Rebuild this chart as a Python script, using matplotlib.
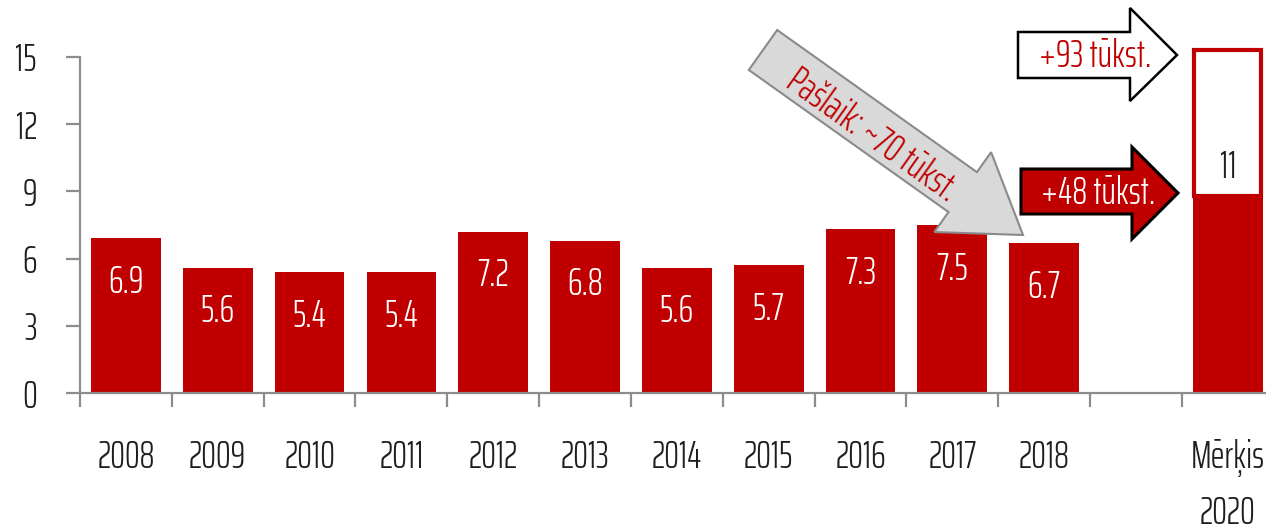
import matplotlib
matplotlib.use('Agg')
import matplotlib.pyplot as plt
from matplotlib import font_manager
from matplotlib.patches import Polygon
import numpy as np

# ---------------- data ----------------
categories = ['2008', '2009', '2010', '2011', '2012', '2013', '2014', '2015',
              '2016', '2017', '2018', '', 'Mērķis\n2020']
values = [6.9, 5.6, 5.4, 5.4, 7.2, 6.8, 5.6, 5.7, 7.3, 7.5, 6.7]
value_labels = ['6.9', '5.6', '5.4', '5.4', '7.2', '6.8', '5.6', '5.7', '7.3', '7.5', '6.7']
target_base = 8.8
target_extra = 6.5
target_label = '11'
yticks = [0, 3, 6, 9, 12, 15]
arrow_now = 'Pašlaik: ~70 tūkst.'
arrow_top = '+93 tūkst.'
arrow_mid = '+48 tūkst.'

# ---------------- fonts ----------------
names = {f.name for f in font_manager.fontManager.ttflist}
font = 'DejaVu Sans'
for cand in ['Saira ExtraCondensed', 'Barlow Condensed', 'Roboto Condensed']:
    if cand in names:
        font = cand
        break
plt.rcParams['font.family'] = [font, 'DejaVu Sans']
plt.rcParams['font.weight'] = 300

RED = '#C00000'
GRAY = '#8C8C8C'
TXT = '#1E1E1E'
FS = 27

W, H = 1266, 529
fig = plt.figure(figsize=(W / 100, H / 100), dpi=100)

x0, y0 = 80, 393
ppu = (393 - 57) / 15.0
cat_w = 91.83
ymax = 16.5
ax = fig.add_axes([x0 / W, (H - y0) / H, 13 * cat_w / W, ymax * ppu / H])
ax.set_xlim(-0.5, 12.5)
ax.set_ylim(0, ymax)

xs = np.arange(len(values))
bw = 0.76
ax.bar(xs, values, width=bw, color=RED, zorder=2)
for x, v, lab in zip(xs, values, value_labels):
    ax.text(x, v - 1.95, lab, ha='center', va='center', color='white', fontsize=FS, zorder=3)

ti = len(categories) - 1
ax.bar([ti], [target_base], width=bw, color=RED, zorder=2)
ax.bar([ti], [target_extra], bottom=[target_base], width=bw - 0.03, color='white',
       edgecolor=RED, linewidth=3, zorder=2, clip_on=False)
ax.text(ti, target_base + target_extra * 0.2, target_label, ha='center', va='center',
        color=TXT, fontsize=FS, zorder=3)

for s in ['top', 'right']:
    ax.spines[s].set_visible(False)
for s in ['left', 'bottom']:
    ax.spines[s].set_color(GRAY)
    ax.spines[s].set_linewidth(1.6)
ax.spines['left'].set_bounds(0, 15)

ax.set_yticks(yticks)
ax.set_yticklabels([str(t) for t in yticks])
ax.tick_params(axis='y', length=10, width=1.6, color=GRAY, pad=21, labelsize=FS,
               labelcolor=TXT)
ax.set_xticks(np.arange(len(categories)))
ax.set_xticklabels(categories, linespacing=1.62)
ax.set_xticks(np.arange(len(categories) + 1) - 0.5, minor=True)
ax.tick_params(axis='x', which='major', length=0, pad=33, labelsize=FS, labelcolor=TXT)
ax.tick_params(axis='x', which='minor', length=10, width=1.6, color=GRAY)


def fp(pts):
    return [(x / W, 1 - y / H) for x, y in pts]

# gray diagonal arrow
T = np.array([763.0, 50.0])
tip = np.array([1023.0, 235.0])
d = tip - T
L = np.hypot(*d)
u = d / L
n = np.array([-u[1], u[0]])
hw, hhw, hl = 24.5, 49.0, 74.0
pts = [T + n * hw, T + n * hw + u * (L - hl), T + n * hhw + u * (L - hl), tip,
       T - n * hhw + u * (L - hl), T - n * hw + u * (L - hl), T - n * hw]
fig.add_artist(Polygon(fp(pts), closed=True, transform=fig.transFigure,
                       facecolor='#D9D9D9', edgecolor='#8A8A8A', linewidth=1.5, zorder=5))
ang = -np.degrees(np.arctan2(d[1], d[0]))
fig.text(872 / W, 1 - 135 / H, arrow_now, rotation=ang, rotation_mode='anchor',
         ha='center', va='center', color=RED, fontsize=FS, zorder=6)

# white arrow (+93)
pts = [(1018, 32), (1130, 32), (1130, 8), (1177, 55), (1130, 101), (1130, 78), (1018, 78)]
fig.add_artist(Polygon(fp(pts), closed=True, transform=fig.transFigure,
                       facecolor='white', edgecolor='black', linewidth=1.8, zorder=5))
fig.text(1095 / W, 1 - 56 / H, arrow_top, ha='center', va='center', color=RED,
         fontsize=FS, zorder=6)

# red arrow (+48)
pts = [(1021, 169), (1132, 169), (1132, 147), (1178, 193), (1132, 239), (1132, 214), (1021, 214)]
fig.add_artist(Polygon(fp(pts), closed=True, transform=fig.transFigure,
                       facecolor=RED, edgecolor='black', linewidth=2.2, zorder=5))
fig.text(1098 / W, 1 - 193 / H, arrow_mid, ha='center', va='center', color='white',
         fontsize=FS, zorder=6)

fig.savefig('out.png', dpi=100)
